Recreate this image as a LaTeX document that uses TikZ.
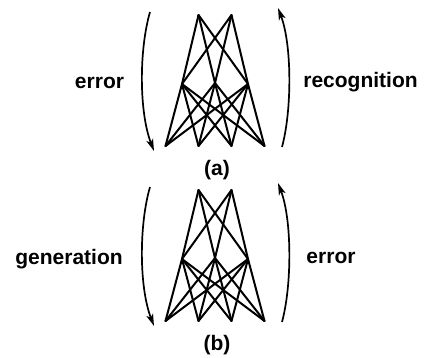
\documentclass[tikz,border=0pt]{standalone}
\usepackage{fontspec}
\setmainfont{Liberation Sans}
\usetikzlibrary{arrows.meta}
\tikzset{
  netline/.style={line width=2pt, line cap=round, line join=round},
  arcarrow/.style={line width=1.7pt, -{Stealth[length=12pt,width=7pt,inset=3pt]}},
  lbl/.style={anchor=base, inner sep=0pt, font=\fontsize{21}{25}\selectfont\bfseries}
}
\begin{document}
\begin{tikzpicture}[x=1pt,y=-1pt]
\useasboundingbox (0,0) rectangle (424,357);
\foreach \p/\dy in {a/0,b/175}{
  \begin{scope}[yshift=-\dy pt]
    % units (named points)
    \coordinate (\p t1) at (198.5,15);
    \coordinate (\p t2) at (231.5,15);
    \coordinate (\p m1) at (182,84);
    \coordinate (\p m2) at (215,83);
    \coordinate (\p m3) at (248,84);
    \coordinate (\p b1) at (165.5,146);
    \coordinate (\p b2) at (198.5,146);
    \coordinate (\p b3) at (231.5,146);
    \coordinate (\p b4) at (264.5,146);
    % connectors
    \foreach \t in {1,2}{\foreach \m in {1,2,3}{\draw[netline] (\p t\t) -- (\p m\m);}}
    \foreach \m in {1,2,3}{\foreach \b in {1,2,3,4}{\draw[netline] (\p m\m) -- (\p b\b);}}
    % arc arrows
    \coordinate (\p L1) at (150,12);
    \coordinate (\p L2) at (154,151);
    \coordinate (\p R1) at (282,147);
    \coordinate (\p R2) at (278,8);
    \draw[arcarrow] (\p L1) .. controls (139,50) and (139,112) .. (\p L2);
    \draw[arcarrow] (\p R1) .. controls (292,110) and (292,45) .. (\p R2);
  \end{scope}
}
\node[lbl] (la) at (99.5,88.5) {error};
\node[lbl] (ra) at (360.5,87.5) {recognition};
\node[lbl] (ca) at (217,175) {(a)};
\node[lbl] (lb) at (69,264) {generation};
\node[lbl] (rb) at (331,263.5) {error};
\node[lbl] (cb) at (217,350) {(b)};
\end{tikzpicture}
\end{document}
